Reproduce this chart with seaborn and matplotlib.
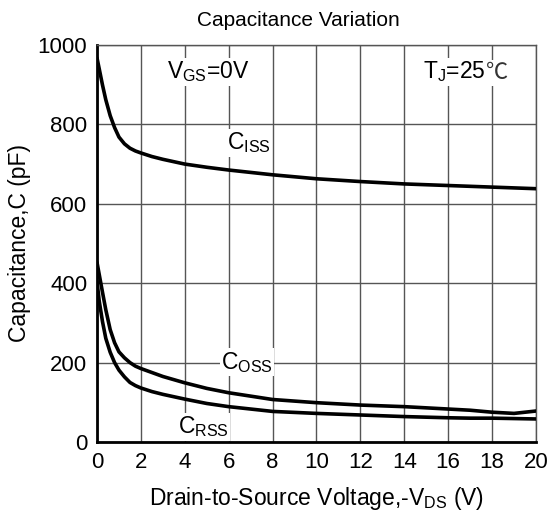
import matplotlib
matplotlib.use('Agg')
import matplotlib.pyplot as plt
import seaborn as sns
import pandas as pd

# Drain-to-source voltage (V) and capacitances (pF)
vds = [0, 0.1, 0.25, 0.4, 0.6, 0.8, 1, 1.25, 1.5, 1.75, 2, 2.5, 3, 4, 5, 6, 8, 10, 12, 14, 16, 17, 18, 19, 20]
ciss = [967, 940, 899, 862, 822, 792, 768, 751, 740, 733, 728, 719, 712, 700, 692, 685, 673,
        663, 656, 650, 646, 644, 642, 640, 638]
coss = [452, 422, 377, 333, 283, 250, 227, 212, 200, 191, 185, 175, 165, 149, 135, 124, 107,
        99, 93, 89, 83, 80, 75, 72, 78]
crss = [404, 355, 303, 261, 226, 200, 181, 164, 150, 142, 136, 127, 120, 108, 97, 89, 77,
        72, 68, 64, 61, 60, 60, 59, 58]

x_ticks = list(range(0, 21, 2))
y_ticks = [0, 200, 400, 600, 800, 1000]

sns.set_style('white')
plt.rcParams['font.family'] = ['Liberation Sans', 'DejaVu Sans']
plt.rcParams['mathtext.fontset'] = 'custom'
plt.rcParams['mathtext.rm'] = 'Liberation Sans'
plt.rcParams['text.color'] = 'black'
plt.rcParams['axes.labelcolor'] = 'black'
plt.rcParams['xtick.color'] = 'black'
plt.rcParams['ytick.color'] = 'black'

df = pd.DataFrame({'vds': vds, 'Ciss': ciss, 'Coss': coss, 'Crss': crss})

fig = plt.figure(figsize=(5.5, 5.23), dpi=100)
ax = fig.add_axes([0.1764, 0.1549, 0.7981, 0.7591])

for col in ['Ciss', 'Coss', 'Crss']:
    sns.lineplot(data=df, x='vds', y=col, ax=ax, color='black', linewidth=2.6, zorder=5)

ax.set_xlim(0, 20)
ax.set_ylim(0, 1000)
ax.set_xticks(x_ticks)
ax.set_yticks(y_ticks)
ax.grid(True, color='#555555', linewidth=1)
ax.set_axisbelow(True)
ax.tick_params(length=0, labelsize=16, pad=7)

for s in ['left', 'bottom']:
    ax.spines[s].set_color('black')
    ax.spines[s].set_linewidth(2)
for s in ['top', 'right']:
    ax.spines[s].set_color('#555555')
    ax.spines[s].set_linewidth(1)

ax.set_title('Capacitance Variation', fontsize=15, pad=14, x=0.458)
ax.set_xlabel(r'Drain-to-Source Voltage,-V$_\mathrm{DS}$ (V)', fontsize=16.5, labelpad=9)
ax.set_ylabel('Capacitance,C (pF)', fontsize=16.5, labelpad=5)

box = dict(facecolor='white', edgecolor='none', pad=1)
ax.text(5.06, 932, r'V$_\mathrm{GS}$=0V', fontsize=16.5, ha='center', va='center', bbox=box, zorder=6)
tj = ax.text(16.3, 932, r'T$_\mathrm{J}$=25', fontsize=16.5, ha='center', va='center', bbox=box, zorder=6)
ax.annotate('℃', xy=(1, 0), xycoords=tj, xytext=(0, 0), textcoords='offset points',
            fontsize=16, ha='left', va='bottom', family=['Noto Sans CJK SC', 'DejaVu Sans'],
            color='#333333', bbox=box, zorder=6)
ax.text(6.9, 753, r'C$_\mathrm{ISS}$', fontsize=16.5, ha='center', va='center', bbox=box, zorder=6)
ax.text(6.83, 201, r'C$_\mathrm{OSS}$', fontsize=16.5, ha='center', va='center', bbox=box, zorder=6)
ax.text(4.83, 38, r'C$_\mathrm{RSS}$', fontsize=16.5, ha='center', va='center', bbox=box, zorder=6)

fig.savefig('out.png', dpi=100)
